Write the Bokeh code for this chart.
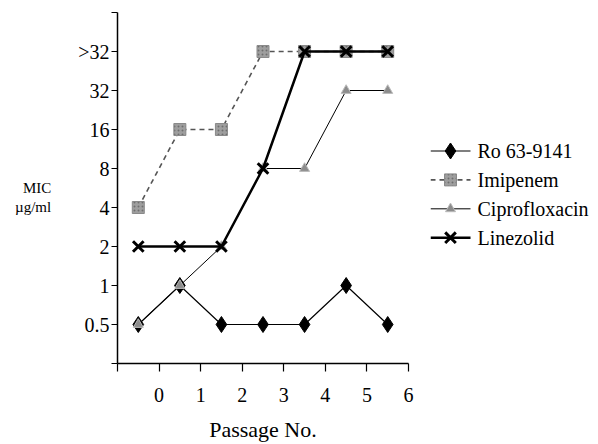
from bokeh.plotting import figure
from bokeh.layouts import row
from bokeh.models import FixedTicker, Range1d
from bokeh.core.properties import value
from bokeh.embed import file_html
from bokeh.resources import INLINE

# ---- data ----
passage = [0, 1, 2, 3, 4, 5, 6]
mic_levels = ["0.5", "1", "2", "4", "8", "16", "32", ">32"]
ro_63_9141 = ["0.5", "1", "0.5", "0.5", "0.5", "1", "0.5"]
imipenem = ["4", "16", "16", ">32", ">32", ">32", ">32"]
ciprofloxacin = ["0.5", "1", "2", "8", "8", "32", "32"]
linezolid = ["2", "2", "2", "8", ">32", ">32", ">32"]
series_names = ["Ro 63-9141", "Imipenem", "Ciprofloxacin", "Linezolid"]

def yidx(vals):
    return [mic_levels.index(v) + 1 for v in vals]

xs = [p - 0.5 for p in passage]

FONT = "Liberation Serif"

p = figure(width=430, height=444, x_range=(-1, 6), y_range=(0, 9),
           output_backend="svg", toolbar_location=None,
           min_border_left=117, min_border_right=22,
           min_border_top=12, min_border_bottom=80)
p.outline_line_color = None
p.grid.visible = False

# axes
p.xaxis.ticker = FixedTicker(ticks=list(range(-1, 7)))
p.xaxis.major_label_overrides = {-1: ""}
p.yaxis.ticker = FixedTicker(ticks=list(range(0, 10)))
ov = {0: "", 9: ""}
for i, lv in enumerate(mic_levels):
    ov[i + 1] = lv
p.yaxis.major_label_overrides = ov

for ax in (p.xaxis[0], p.yaxis[0]):
    ax.axis_line_color = "black"
    ax.axis_line_width = 1.5
    ax.major_tick_line_color = "black"
    ax.major_tick_line_width = 1.2
    ax.major_tick_in = 0
    ax.minor_tick_line_color = None
    ax.major_label_text_font = FONT
    ax.major_label_text_font_size = "20px"
    ax.major_label_text_color = "black"

p.yaxis.major_tick_out = 6
p.yaxis.major_label_standoff = 2
p.xaxis.major_tick_out = 8
p.xaxis.major_label_standoff = 16
p.xaxis.axis_label = "Passage No."
p.xaxis.axis_label_text_font = FONT
p.xaxis.axis_label_text_font_size = "22px"
p.xaxis.axis_label_text_font_style = "normal"
p.xaxis.axis_label_text_color = "black"
p.xaxis.axis_label_standoff = 12

p.yaxis.axis_label = " \nMIC\nµg/ml"
p.yaxis.axis_label_orientation = "horizontal"
p.yaxis.axis_label_text_font = FONT
p.yaxis.axis_label_text_font_size = "15px"
p.yaxis.axis_label_text_font_style = "normal"
p.yaxis.axis_label_text_color = "black"
p.yaxis.axis_label_text_align = "center"
p.yaxis.axis_label_standoff = 24

# series styles
styles = [
    dict(line=dict(line_color="black", line_width=1.2),
         marker=dict(marker="diamond", size=16, fill_color="black", line_color="black")),
    dict(line=dict(line_color="#555555", line_width=1.6, line_dash="5 4"),
         marker=dict(marker="square", size=12, fill_color="#9e9e9e", line_color="#8a8a8a",
                     hatch_pattern="dot", hatch_color="#6e6e6e", hatch_scale=4)),
    dict(line=dict(line_color="black", line_width=1),
         marker=dict(marker="triangle", size=10, fill_color="#8c8c8c",
                     line_color="#bbbbbb", line_width=1)),
    dict(line=dict(line_color="black", line_width=2.5),
         marker=dict(marker="x", size=15, line_color="black", line_width=3)),
]
all_series = [ro_63_9141, imipenem, ciprofloxacin, linezolid]
for vals, st in zip(all_series, styles):
    p.line(xs, yidx(vals), **st["line"])
    p.scatter(xs, yidx(vals), **st["marker"])

# legend panel: a separate figure to the right, one row per series
# (x range in pixels of this panel; y range: one unit per legend row, ~29 px)
q = figure(width=168, height=444,
           x_range=Range1d(0, 168), y_range=Range1d(7.35, -4.79),
           output_backend="svg", toolbar_location=None,
           x_axis_type=None, y_axis_type=None,
           min_border_left=0, min_border_right=0, min_border_top=0, min_border_bottom=0)
q.outline_line_color = None
q.grid.visible = False
rows = list(range(len(series_names)))
for i, st in zip(rows, styles):
    q.segment(x0=[0], y0=[i], x1=[40], y1=[i], **st["line"])
    q.scatter([20], [i], **st["marker"])
q.text(x=[47] * len(rows), y=rows, text=series_names,
       text_font=value(FONT), text_font_size="20px",
       text_baseline="middle", text_align="left", text_color="black")

layout = row(p, q)
open("out.html", "w").write(file_html(layout, INLINE))
